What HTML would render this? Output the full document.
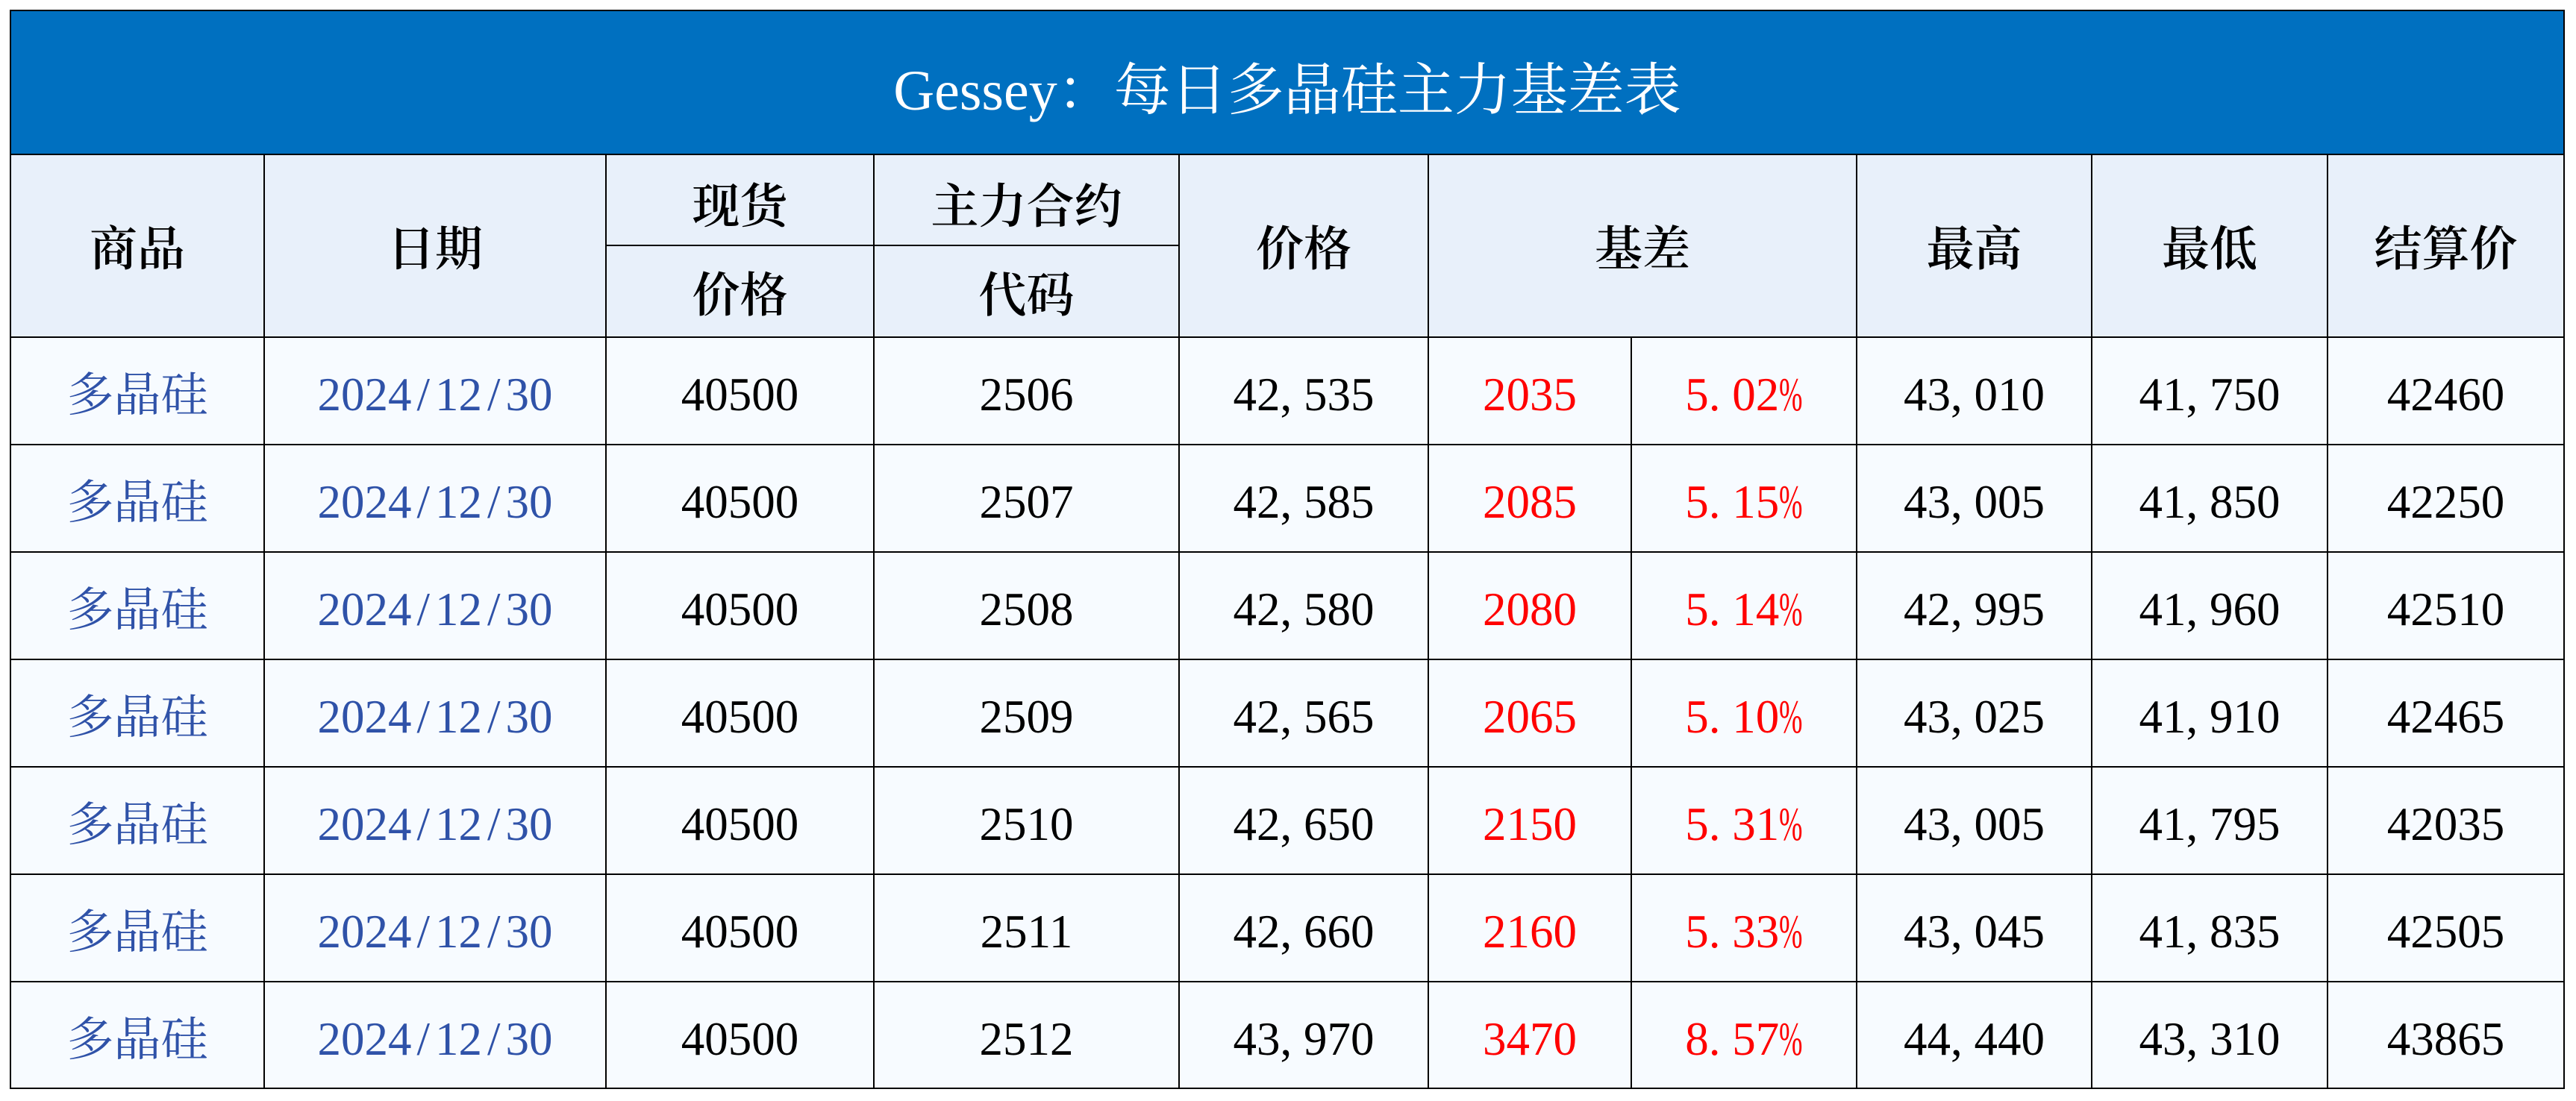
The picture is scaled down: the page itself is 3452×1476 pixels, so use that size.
<!DOCTYPE html>
<html><head><meta charset="utf-8">
<style>
html,body{margin:0;padding:0;background:#fff;}
body{width:3452px;height:1476px;position:relative;overflow:hidden;}
.a{position:absolute;}
.bk{position:absolute;background:#000;}
.title{position:absolute;left:14px;top:18px;width:3422px;height:193px;line-height:193px;text-align:center;color:#fff;font-family:"Noto Serif CJK SC","Liberation Serif",serif;font-size:76px;white-space:nowrap;}
.title .lt{font-family:"Liberation Serif","Noto Serif CJK SC",serif;line-height:1;}
.h{position:absolute;text-align:center;white-space:nowrap;font-family:"Noto Serif CJK SC","Liberation Serif",serif;font-size:64px;font-weight:600;color:#000;}
.r{position:absolute;left:0;width:3452px;height:144px;}
.r div{position:absolute;top:0;height:144px;line-height:144px;text-align:center;white-space:nowrap;font-size:63px;color:#000;}
.r .n{font-family:"Liberation Serif","Noto Serif CJK SC",serif;top:5px;}
.r .c{font-family:"Noto Serif CJK SC","Liberation Serif",serif;top:1px;color:#2F52A8;}
.r .bl{color:#2F52A8;}
.r .rd{color:#FF0000;}
.k0{left:14px;width:340px}
.k1{left:354px;width:458px}
.k2{left:812px;width:359px}
.k3{left:1171px;width:409px}
.k4{left:1580px;width:334px}
.k5{left:1914px;width:272px}
.k5b{left:2186px;width:302px}
.k6{left:2488px;width:315px}
.k7{left:2803px;width:316px}
.k8{left:3119px;width:317px}
i{font-style:normal;display:inline-block;width:.5em;text-align:left;line-height:1;}
u{text-decoration:none;display:inline-block;width:.5em;text-align:center;line-height:1;}
s{text-decoration:none;display:inline-block;width:.5em;text-align:left;line-height:1;transform:scaleX(.6);transform-origin:0 0;}
</style></head><body>

<!-- backgrounds -->
<div class="a" style="left:14px;top:14px;width:3422px;height:193px;background:#0070C0;"></div>
<div class="a" style="left:14px;top:207px;width:3422px;height:245px;background:#E8F0FA;"></div>
<div class="a" style="left:14px;top:452px;width:3422px;height:1007px;background:#F7FBFF;"></div>

<!-- title -->
<div class="title"><span class="lt">Gessey</span>：每日多晶硅主力基差表</div>

<!-- header -->
<div class="h" style="left:14px;width:340px;top:207px;height:245px;line-height:245px;">商品</div>
<div class="h" style="left:354px;width:458px;top:207px;height:245px;line-height:245px;">日期</div>
<div class="h" style="left:812px;width:359px;top:211px;height:122px;line-height:122px;">现货</div>
<div class="h" style="left:812px;width:359px;top:330px;height:123px;line-height:123px;">价格</div>
<div class="h" style="left:1171px;width:409px;top:211px;height:122px;line-height:122px;">主力合约</div>
<div class="h" style="left:1171px;width:409px;top:330px;height:123px;line-height:123px;">代码</div>
<div class="h" style="left:1580px;width:334px;top:207px;height:245px;line-height:245px;">价格</div>
<div class="h" style="left:1914px;width:574px;top:207px;height:245px;line-height:245px;">基差</div>
<div class="h" style="left:2488px;width:315px;top:207px;height:245px;line-height:245px;">最高</div>
<div class="h" style="left:2803px;width:316px;top:207px;height:245px;line-height:245px;">最低</div>
<div class="h" style="left:3119px;width:317px;top:207px;height:245px;line-height:245px;">结算价</div>

<!-- rows -->
<div class="r" style="top:452px">
<div class="c k0">多晶硅</div><div class="n bl k1">2024<u>/</u>12<u>/</u>30</div><div class="n k2">40500</div><div class="n k3">2506</div><div class="n k4">42<i>,</i>535</div><div class="n rd k5">2035</div><div class="n rd k5b">5<i>.</i>02<s>%</s></div><div class="n k6">43<i>,</i>010</div><div class="n k7">41<i>,</i>750</div><div class="n k8">42460</div>
</div>
<div class="r" style="top:596px">
<div class="c k0">多晶硅</div><div class="n bl k1">2024<u>/</u>12<u>/</u>30</div><div class="n k2">40500</div><div class="n k3">2507</div><div class="n k4">42<i>,</i>585</div><div class="n rd k5">2085</div><div class="n rd k5b">5<i>.</i>15<s>%</s></div><div class="n k6">43<i>,</i>005</div><div class="n k7">41<i>,</i>850</div><div class="n k8">42250</div>
</div>
<div class="r" style="top:740px">
<div class="c k0">多晶硅</div><div class="n bl k1">2024<u>/</u>12<u>/</u>30</div><div class="n k2">40500</div><div class="n k3">2508</div><div class="n k4">42<i>,</i>580</div><div class="n rd k5">2080</div><div class="n rd k5b">5<i>.</i>14<s>%</s></div><div class="n k6">42<i>,</i>995</div><div class="n k7">41<i>,</i>960</div><div class="n k8">42510</div>
</div>
<div class="r" style="top:884px">
<div class="c k0">多晶硅</div><div class="n bl k1">2024<u>/</u>12<u>/</u>30</div><div class="n k2">40500</div><div class="n k3">2509</div><div class="n k4">42<i>,</i>565</div><div class="n rd k5">2065</div><div class="n rd k5b">5<i>.</i>10<s>%</s></div><div class="n k6">43<i>,</i>025</div><div class="n k7">41<i>,</i>910</div><div class="n k8">42465</div>
</div>
<div class="r" style="top:1028px">
<div class="c k0">多晶硅</div><div class="n bl k1">2024<u>/</u>12<u>/</u>30</div><div class="n k2">40500</div><div class="n k3">2510</div><div class="n k4">42<i>,</i>650</div><div class="n rd k5">2150</div><div class="n rd k5b">5<i>.</i>31<s>%</s></div><div class="n k6">43<i>,</i>005</div><div class="n k7">41<i>,</i>795</div><div class="n k8">42035</div>
</div>
<div class="r" style="top:1172px">
<div class="c k0">多晶硅</div><div class="n bl k1">2024<u>/</u>12<u>/</u>30</div><div class="n k2">40500</div><div class="n k3">2511</div><div class="n k4">42<i>,</i>660</div><div class="n rd k5">2160</div><div class="n rd k5b">5<i>.</i>33<s>%</s></div><div class="n k6">43<i>,</i>045</div><div class="n k7">41<i>,</i>835</div><div class="n k8">42505</div>
</div>
<div class="r" style="top:1316px">
<div class="c k0">多晶硅</div><div class="n bl k1">2024<u>/</u>12<u>/</u>30</div><div class="n k2">40500</div><div class="n k3">2512</div><div class="n k4">43<i>,</i>970</div><div class="n rd k5">3470</div><div class="n rd k5b">8<i>.</i>57<s>%</s></div><div class="n k6">44<i>,</i>440</div><div class="n k7">43<i>,</i>310</div><div class="n k8">43865</div>
</div>

<!-- horizontal lines -->
<div class="bk" style="left:13px;top:13px;width:3424px;height:2px;"></div>
<div class="bk" style="left:13px;top:206px;width:3424px;height:2px;"></div>
<div class="bk" style="left:811px;top:328px;width:770px;height:2px;"></div>
<div class="bk" style="left:13px;top:451px;width:3424px;height:2px;"></div>
<div class="bk" style="left:13px;top:595px;width:3424px;height:2px;"></div>
<div class="bk" style="left:13px;top:739px;width:3424px;height:2px;"></div>
<div class="bk" style="left:13px;top:883px;width:3424px;height:2px;"></div>
<div class="bk" style="left:13px;top:1027px;width:3424px;height:2px;"></div>
<div class="bk" style="left:13px;top:1171px;width:3424px;height:2px;"></div>
<div class="bk" style="left:13px;top:1315px;width:3424px;height:2px;"></div>
<div class="bk" style="left:13px;top:1458px;width:3424px;height:2px;"></div>

<!-- vertical lines -->
<div class="bk" style="left:13px;top:13px;width:2px;height:1447px;"></div>
<div class="bk" style="left:353px;top:207px;width:2px;height:1253px;"></div>
<div class="bk" style="left:811px;top:207px;width:2px;height:1253px;"></div>
<div class="bk" style="left:1170px;top:207px;width:2px;height:1253px;"></div>
<div class="bk" style="left:1579px;top:207px;width:2px;height:1253px;"></div>
<div class="bk" style="left:1913px;top:207px;width:2px;height:1253px;"></div>
<div class="bk" style="left:2185px;top:452px;width:2px;height:1008px;"></div>
<div class="bk" style="left:2487px;top:207px;width:2px;height:1253px;"></div>
<div class="bk" style="left:2802px;top:207px;width:2px;height:1253px;"></div>
<div class="bk" style="left:3118px;top:207px;width:2px;height:1253px;"></div>
<div class="bk" style="left:3435px;top:13px;width:2px;height:1447px;"></div>

</body></html>
